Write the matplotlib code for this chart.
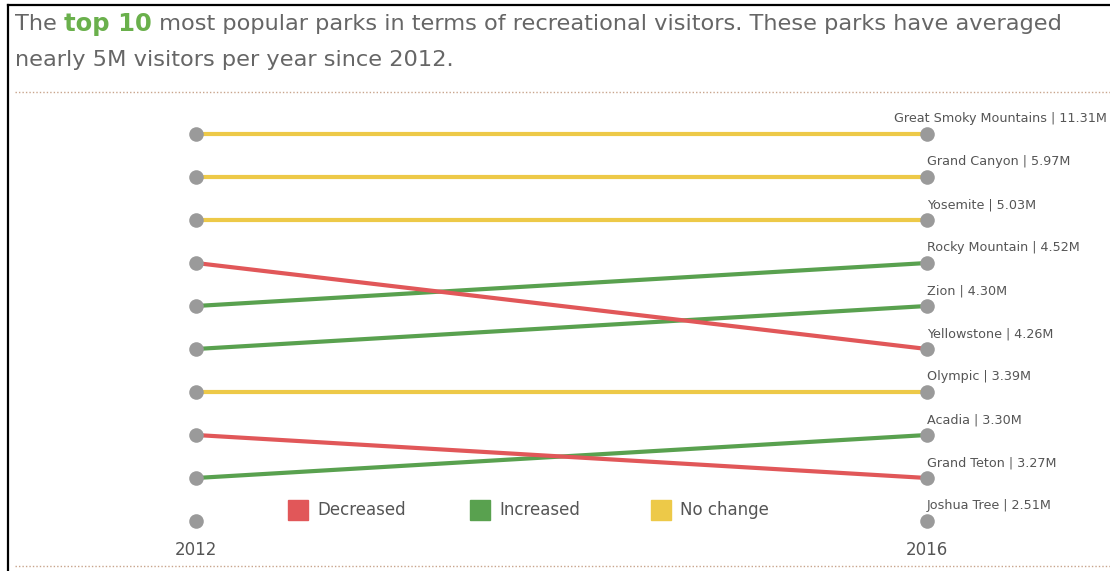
import matplotlib
matplotlib.use("Agg")
import matplotlib.pyplot as plt
from matplotlib.lines import Line2D
from matplotlib.patches import Rectangle
import matplotlib.transforms as mtransforms

# data (ordered by 2016 rank)
parks = ["Great Smoky Mountains", "Grand Canyon", "Yosemite", "Rocky Mountain",
         "Zion", "Yellowstone", "Olympic", "Acadia", "Grand Teton", "Joshua Tree"]
visitors_2016 = [11.31, 5.97, 5.03, 4.52, 4.30, 4.26, 3.39, 3.30, 3.27, 2.51]
rank_2016 = [1, 2, 3, 4, 5, 6, 7, 8, 9, 10]
rank_2012 = [1, 2, 3, 5, 6, 4, 7, 9, 8, None]   # Joshua Tree not top 10 in 2012
dots_2012 = [1, 2, 3, 4, 5, 6, 7, 8, 9, 10]
years = [2012, 2016]

RED = "#e15759"
GREEN = "#59a14f"
YELLOW = "#edc948"
DOT = "#9a9a9a"
TXT = "#555555"
DOTLINE = "#c8a48c"

fig = plt.figure(figsize=(11.10, 5.71), dpi=100)
W, H = 1110, 571
ax = fig.add_axes([196 / W, 1 - 521 / H, (927 - 196) / W, (521 - 134) / H])
ax.set_xlim(2012, 2016)
ax.set_ylim(10, 1)
ax.axis("off")

for r12, r16 in zip(rank_2012, rank_2016):
    if r12 is None:
        continue
    if r16 < r12:
        c = GREEN
    elif r16 > r12:
        c = RED
    else:
        c = YELLOW
    ax.plot(years, [r12, r16], color=c, lw=3, solid_capstyle="butt", zorder=2, clip_on=False)

ax.scatter([2012] * len(dots_2012), dots_2012, s=110, color=DOT, zorder=3, clip_on=False, linewidths=0)
ax.scatter([2016] * len(rank_2016), rank_2016, s=110, color=DOT, zorder=3, clip_on=False, linewidths=0)

# park labels at the 2016 end
lblfont = dict(fontsize=9.2, color=TXT, family="DejaVu Sans")
for name, v, r in zip(parks, visitors_2016, rank_2016):
    label = f"{name} | {v:.2f}M"
    if r == 1:
        tr = mtransforms.blended_transform_factory(fig.transFigure, ax.transData)
        ax.annotate(label, xy=(1107 / W, r), xycoords=tr, xytext=(0, 11),
                    textcoords="offset points", ha="right", va="center", **lblfont)
    else:
        ax.annotate(label, xy=(2016, r), xytext=(0, 11), textcoords="offset points",
                    ha="left", va="center", **lblfont)

# year labels
for yr in years:
    ax.annotate(str(yr), xy=(yr, 10), xytext=(0, -21), textcoords="offset points",
                ha="center", va="center", fontsize=12, color=TXT)

# legend
leg_items = [("Decreased", RED, 288), ("Increased", GREEN, 470), ("No change", YELLOW, 651)]
for lab, c, x0 in leg_items:
    fig.add_artist(Rectangle((x0 / W, 1 - 520 / H), 20 / W, 20 / H, color=c,
                             transform=fig.transFigure))
    fig.text((x0 + 29) / W, 1 - 510 / H, lab, fontsize=12, color=TXT, va="center", ha="left")

# title
tfont = dict(fontsize=16.2, color="#666666", va="center")
t1 = fig.text(15 / W, 1 - 24 / H, "The ", **tfont)
fig.canvas.draw()
r = fig.canvas.get_renderer()
bb = t1.get_window_extent(r)
t2 = fig.text(bb.x1 / W, 1 - 24 / H, "top 10", fontsize=17.5, color="#6ab04c",
              weight="bold", va="center")
bb = t2.get_window_extent(r)
fig.text(bb.x1 / W, 1 - 24 / H,
         " most popular parks in terms of recreational visitors. These parks have averaged",
         **tfont)
fig.text(15 / W, 1 - 60 / H, "nearly 5M visitors per year since 2012.", **tfont)

# dotted separators and frame
for yy in (92, 566):
    fig.add_artist(Line2D([15 / W, 1], [1 - yy / H] * 2, color=DOTLINE, lw=1,
                          ls=(0, (1, 1.5)), transform=fig.transFigure))
fig.add_artist(Line2D([8 / W, 8 / W], [0, 1 - 5 / H], color="black", lw=1.6,
                      transform=fig.transFigure))
fig.add_artist(Line2D([8 / W, 1], [1 - 5 / H] * 2, color="black", lw=1.6,
                      transform=fig.transFigure))

fig.savefig("out.png", dpi=100)
